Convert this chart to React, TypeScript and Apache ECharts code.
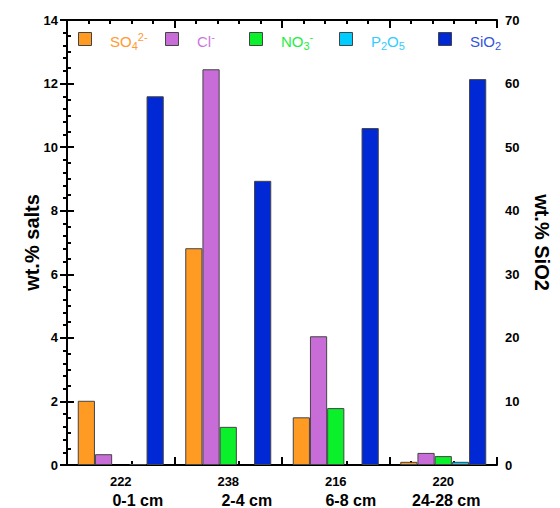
import React, { useEffect, useRef } from "react";
import * as echarts from "echarts";

// ---- data ----
const depths = ["0-1 cm", "2-4 cm", "6-8 cm", "24-28 cm"];
const sampleIds = ["222", "238", "216", "220"];
const so4 = [2.02, 6.82, 1.5, 0.1];
const cl = [0.34, 12.45, 4.05, 0.38];
const no3: (number | null)[] = [null, 1.2, 1.79, 0.28];
const p2o5: (number | null)[] = [0.03, null, null, 0.1];
const sio2 = [58.0, 44.7, 53.0, 60.7];
const saltsMax = 14;
const saltsInterval = 2;
const sio2Max = 70;
const sio2Interval = 10;

const FONT = "'Liberation Sans', Arial, Helvetica, sans-serif";

const COLORS = {
  so4: "#FF9A22",
  cl: "#C86CD8",
  no3: "#0AF02A",
  p2o5: "#00CCFF",
  sio2: "#0028D4",
};
const TEXT_COLORS = {
  so4: "#FF9A33",
  cl: "#CC77DD",
  no3: "#22EE44",
  p2o5: "#33CCFF",
  sio2: "#3355DD",
};

const depthPad = [34, 37, 30, 6];

export default function App() {
  const ref = useRef<HTMLDivElement>(null);

  useEffect(() => {
    if (!ref.current) return;
    const chart = echarts.init(ref.current, null, { renderer: "svg" });

    const mkBar = (name: string, data: (number | null)[], color: string, yAxisIndex = 0) => ({
      type: "bar",
      name,
      data,
      xAxisIndex: 0,
      yAxisIndex,
      barGap: "0%",
      barCategoryGap: "20%",
      itemStyle: { color, borderColor: "#444", borderWidth: 1 },
    });

    const legendRich = (color: string) => ({
      m: { fontSize: 15, fontFamily: FONT, fill: color, color, lineHeight: 20 },
      sb: { fontSize: 11, fontFamily: FONT, fill: color, color, verticalAlign: "bottom", lineHeight: 12 },
      sp: { fontSize: 11, fontFamily: FONT, fill: color, color, verticalAlign: "top", lineHeight: 12 },
    });

    const legendItems = [
      { left: 78, fill: COLORS.so4, color: TEXT_COLORS.so4, fmt: "{m|SO}{sb|4}{sp|2-}" },
      { left: 165, fill: COLORS.cl, color: TEXT_COLORS.cl, fmt: "{m|Cl}{sp|-}" },
      { left: 249, fill: COLORS.no3, color: TEXT_COLORS.no3, fmt: "{m|NO}{sb|3}{sp|-}" },
      { left: 339, fill: COLORS.p2o5, color: TEXT_COLORS.p2o5, fmt: "{m|P}{sb|2}{m|O}{sb|5}" },
      { left: 438, fill: COLORS.sio2, color: TEXT_COLORS.sio2, fmt: "{m|Si}{m|O}{sb|2}" },
    ];

    const graphic: any[] = [];
    legendItems.forEach((it) => {
      graphic.push({
        type: "rect",
        shape: { x: it.left + 0.5, y: 32.5, width: 13, height: 13 },
        style: { fill: it.fill, stroke: "#444", lineWidth: 1 },
        silent: true,
      });
      graphic.push({
        type: "text",
        x: it.left + 32,
        y: 41,
        silent: true,
        style: {
          text: it.fmt,
          fill: it.color,
          font: `15px ${FONT}`,
          verticalAlign: "middle",
          align: "left",
          rich: legendRich(it.color),
        },
      });
    });

    const frameAxis = (position: "bottom" | "top") => ({
      type: "value",
      position,
      min: 0,
      max: 20,
      interval: 5,
      axisLine: { show: true, onZero: false, lineStyle: { color: "#000", width: 2 } },
      axisTick: { show: true, inside: true, length: 8, lineStyle: { color: "#000", width: 2 } },
      minorTick: { show: true, splitNumber: 5, length: 4, lineStyle: { color: "#000", width: 2 } },
      axisLabel: { show: false },
      splitLine: { show: false },
      minorSplitLine: { show: false },
    });

    const catRich: any = {
      n: { fontSize: 13, fontWeight: "bold", fontFamily: FONT, color: "#000", lineHeight: 17 },
    };
    depthPad.forEach((p, i) => {
      catRich["c" + i] = {
        fontSize: 16,
        fontWeight: "bold",
        fontFamily: FONT,
        color: "#000",
        lineHeight: 20,
        padding: [0, 0, 0, p],
      };
    });

    chart.setOption({
      animation: false,
      backgroundColor: "#fff",
      textStyle: { fontFamily: FONT },
      grid: { left: 67, right: 48, top: 20, bottom: 43, containLabel: false },
      graphic,
      xAxis: [
        {
          type: "category",
          position: "bottom",
          data: depths,
          axisLine: { show: false },
          axisTick: { show: false },
          axisLabel: {
            interval: 0,
            margin: 8,
            formatter: (_v: string, i: number) => `{n|${sampleIds[i]}}\n{c${i}|${depths[i]}}`,
            rich: catRich,
          },
        },
        frameAxis("bottom"),
        frameAxis("top"),
      ],
      yAxis: [
        {
          type: "value",
          position: "left",
          min: 0,
          max: saltsMax,
          interval: saltsInterval,
          name: "wt.% salts",
          nameLocation: "middle",
          nameGap: 25.5,
          nameMoveOverlap: false,
          nameTextStyle: { fontSize: 20, fontWeight: "bold", color: "#000", fontFamily: FONT },
          axisLine: { show: true, lineStyle: { color: "#000", width: 2 } },
          axisTick: { show: true, inside: true, length: 7, lineStyle: { color: "#000", width: 2 } },
          minorTick: { show: true, splitNumber: 4, length: 4, lineStyle: { color: "#000", width: 2 } },
          axisLabel: { fontSize: 13, fontWeight: "bold", color: "#000", margin: 9, fontFamily: FONT },
          splitLine: { show: false },
        },
        {
          type: "value",
          position: "right",
          min: 0,
          max: sio2Max,
          interval: sio2Interval,
          name: "wt.% SiO2",
          nameLocation: "middle",
          nameGap: 35,
          nameRotate: -90,
          nameMoveOverlap: false,
          nameTextStyle: { fontSize: 20, fontWeight: "bold", color: "#000", fontFamily: FONT },
          axisLine: { show: true, lineStyle: { color: "#000", width: 2 } },
          axisTick: { show: true, inside: true, length: 7, lineStyle: { color: "#000", width: 2 } },
          minorTick: { show: true, splitNumber: 5, length: 4, lineStyle: { color: "#000", width: 2 } },
          axisLabel: { fontSize: 13, fontWeight: "bold", color: "#000", margin: 8, fontFamily: FONT },
          splitLine: { show: false },
        },
      ],
      series: [
        mkBar("SO4", so4, COLORS.so4),
        mkBar("Cl", cl, COLORS.cl),
        mkBar("NO3", no3, COLORS.no3),
        mkBar("P2O5", p2o5, COLORS.p2o5),
        mkBar("SiO2", sio2, COLORS.sio2, 1),
      ],
    });

    return () => chart.dispose();
  }, []);

  return (
    <div
      ref={ref}
      style={{ position: "absolute", left: 0, top: 0, width: 560, height: 508 }}
    />
  );
}
